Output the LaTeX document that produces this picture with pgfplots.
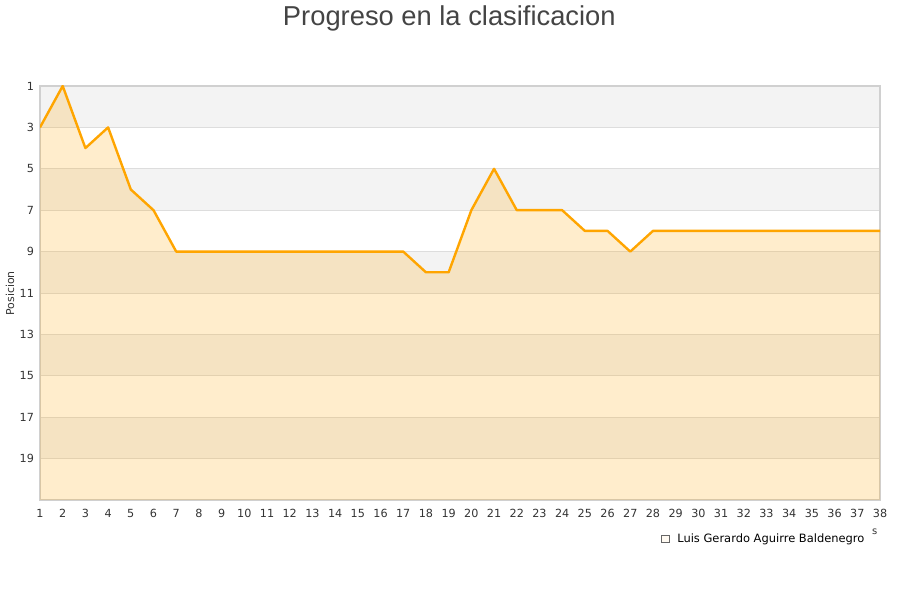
\documentclass[border=0pt]{standalone}
\usepackage{fontspec}
\setmainfont{DejaVu Sans}
\newfontfamily\titlefont{Liberation Sans}
\usepackage{pgfplots}
\pgfplotsset{compat=1.18}
\definecolor{lineorange}{HTML}{FFA500}
\definecolor{bandgray}{HTML}{F3F3F3}
\definecolor{gridgray}{HTML}{DDDDDD}
\definecolor{framegray}{HTML}{D0D0D0}
\definecolor{txtgray}{HTML}{333333}
\definecolor{titlegray}{HTML}{444444}

\pgfplotstableread{
x y
1 3
2 1
3 4
4 3
5 6
6 7
7 9
8 9
9 9
10 9
11 9
12 9
13 9
14 9
15 9
16 9
17 9
18 10
19 10
20 7
21 5
22 7
23 7
24 7
25 8
26 8
27 9
28 8
29 8
30 8
31 8
32 8
33 8
34 8
35 8
36 8
37 8
38 8
}\posdata

\begin{document}
\begin{tikzpicture}
\path (0,0) rectangle (675pt,450pt);
\node[anchor=base, font=\titlefont\fontsize{20.5}{24}\selectfont, text=titlegray, inner sep=0]
  at (337pt,430.5pt) {Progreso en la clasificacion};
\begin{axis}[
  set layers,
  scale only axis,
  width=630pt, height=310.5pt,
  at={(30pt,75pt)}, anchor=south west,
  xmin=1, xmax=38, ymin=1, ymax=21,
  y dir=reverse,
  xtick={1,...,38},
  ytick={1,3,...,19},
  major tick length=0pt,
  ymajorgrids,
  grid style={draw=gridgray, line width=0.6pt},
  axis line style={draw=framegray, line width=0.8pt},
  tick label style={font=\fontsize{8.4}{10}\selectfont, text=txtgray},
  /pgf/number format/assume math mode=true,
  xticklabel style={yshift=-3.5pt},
  yticklabel style={xshift=-1pt},
  legend style={at={(axis description cs:0.985,-0.094)}, anchor=east, draw=none, fill=none,
    font=\fontsize{8.6}{10}\selectfont, inner sep=0pt, legend cell align=left},
  legend image code/.code={\draw[draw=gray!80!black, line width=0.4pt, fill=lineorange!25] (0pt,-2.8pt) rectangle (5.6pt,2.8pt); \path (10pt,0pt);},
]
\begin{pgfonlayer}{axis background}
\fill[bandgray] (axis cs:1,1) rectangle (axis cs:38,3);
\fill[bandgray] (axis cs:1,5) rectangle (axis cs:38,7);
\fill[bandgray] (axis cs:1,9) rectangle (axis cs:38,11);
\fill[bandgray] (axis cs:1,13) rectangle (axis cs:38,15);
\fill[bandgray] (axis cs:1,17) rectangle (axis cs:38,19);
\end{pgfonlayer}
\addplot[draw=none, fill=lineorange, fill opacity=0.2] coordinates {
 (1,21) (1,3) (2,1) (3,4) (4,3) (5,6) (6,7) (7,9) (17,9) (18,10) (19,10)
 (20,7) (21,5) (22,7) (24,7) (25,8) (26,8) (27,9) (28,8) (38,8) (38,21)
} -- cycle;
\addlegendentry{Luis Gerardo Aguirre Baldenegro}
\addplot[forget plot, draw=lineorange, line width=1.8pt, line join=round, no marks] table[x=x, y=y] {\posdata};
\end{axis}
\node[rotate=90, font=\fontsize{8.2}{9}\selectfont, text=txtgray, inner sep=0] at (7.5pt,230pt) {Posicion};
\node[font=\fontsize{7.5}{8}\selectfont, text=txtgray, inner sep=0] at (656pt,51.5pt) {s};
\pgfresetboundingbox
\useasboundingbox (0,0) rectangle (675pt,450pt);
\end{tikzpicture}
\end{document}
